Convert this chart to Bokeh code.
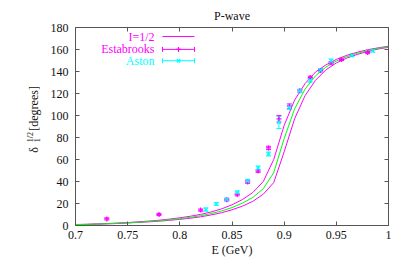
import math
from bokeh.plotting import figure
from bokeh.layouts import row
from bokeh.models import (ColumnDataSource, Whisker, TeeHead, Label, FixedTicker,
                          LinearAxis)
from bokeh.embed import file_html
from bokeh.resources import INLINE

# ---------------- data ----------------
E_grid = [0.70, 0.71, 0.72, 0.73, 0.74, 0.75, 0.76, 0.77, 0.78, 0.79, 0.80,
          0.81, 0.82, 0.83, 0.84, 0.85, 0.86, 0.87, 0.88, 0.89, 0.90,
          0.91, 0.92, 0.93, 0.94, 0.95, 0.96, 0.97, 0.98, 0.99, 1.00]
fit_central = [0.8, 1.0, 1.3, 1.6, 2.0, 2.5, 3.0, 3.6, 4.3, 5.2, 6.2,
               7.4, 8.9, 10.8, 13.2, 16.3, 20.3, 25.5, 33.5, 48.0, 79.0,
               106.0, 124.0, 136.0, 144.0, 149.5, 153.5, 156.5, 159.0, 161.0, 162.5]
fit_upper = [0.9, 1.1, 1.4, 1.8, 2.2, 2.7, 3.3, 4.0, 4.8, 5.8, 7.0,
             8.4, 10.1, 12.3, 15.1, 18.8, 23.6, 30.0, 40.0, 60.0, 91.0,
             114.0, 129.0, 139.5, 146.0, 151.0, 154.7, 157.5, 159.8, 161.5, 163.0]
fit_lower = [0.7, 0.9, 1.2, 1.5, 1.8, 2.3, 2.8, 3.3, 3.9, 4.7, 5.6,
             6.6, 7.9, 9.6, 11.6, 14.3, 17.6, 22.0, 28.5, 39.0, 67.0,
             97.0, 118.0, 132.0, 141.5, 147.8, 152.2, 155.5, 158.2, 160.4, 162.0]

estab_E = [0.73, 0.78, 0.82, 0.845, 0.855, 0.865, 0.875, 0.885, 0.895, 0.905,
           0.915, 0.925, 0.935, 0.945, 0.955, 0.98]
estab_d = [6.0, 10.0, 14.0, 23.3, 28.2, 39.5, 49.5, 70.5, 97.0, 108.5,
           122.5, 134.5, 141.0, 147.8, 151.0, 157.2]
estab_err = [1.0, 1.0, 1.0, 1.0, 1.2, 1.2, 1.2, 1.5, 3.0, 2.0,
             1.2, 1.2, 1.2, 1.2, 1.0, 1.0]

aston_E = [0.825, 0.835, 0.845, 0.855, 0.865, 0.875, 0.885, 0.895, 0.905, 0.915,
           0.925, 0.935, 0.945, 0.965, 0.985]
aston_d = [14.5, 19.5, 23.8, 30.0, 40.5, 52.3, 65.0, 93.7, 107.4, 122.3,
           131.8, 141.2, 149.6, 154.7, 158.8]
aston_err = [1.5, 1.2, 1.2, 1.5, 1.5, 1.8, 1.8, 5.5, 2.0, 1.5,
             1.5, 1.5, 1.8, 1.2, 1.2]

x_ticks = [0.7, 0.75, 0.8, 0.85, 0.9, 0.95, 1.0]
x_tick_labels = ["0.7", "0.75", "0.8", "0.85", "0.9", "0.95", "1"]
y_ticks = [0, 20, 40, 60, 80, 100, 120, 140, 160, 180]

legend_labels = ["I=1/2", "Estabrooks", "Aston"]

# ---------------- style / layout ----------------
FONT = "Liberation Serif"
MAG = "#ff00ff"
CYA = "#00ffff"
GRN = "#00ff00"
AX = "#555555"
TXT = "#111111"
FS = "12px"

W, H = 391, 259
LW = 45                      # width of the strip holding the y-axis title
BL, BR, BT, BB = 75 - LW, 3, 27, 33

p = figure(width=W - LW, height=H, x_range=(0.7, 1.0), y_range=(0, 180),
           output_backend="svg", toolbar_location=None,
           min_border_left=BL, min_border_right=BR, min_border_top=BT,
           min_border_bottom=BB)
p.background_fill_color = "white"
p.border_fill_color = "white"
p.outline_line_color = AX
p.outline_line_width = 1
p.xgrid.visible = False
p.ygrid.visible = False

p.title.text = "P-wave"
p.title.align = "center"
p.title.text_font = FONT
p.title.text_font_size = FS
p.title.text_font_style = "normal"
p.title.text_color = TXT
p.title.standoff = 9

for ax in p.xaxis:
    ax.ticker = FixedTicker(ticks=x_ticks)
    ax.major_label_overrides = {t: l for t, l in zip(x_ticks, x_tick_labels)}
    ax.axis_label = "E (GeV)"
    ax.axis_label_text_font = FONT
    ax.axis_label_text_font_size = FS
    ax.axis_label_text_font_style = "normal"
    ax.axis_label_text_color = TXT
    ax.axis_label_standoff = 1
for ax in p.yaxis:
    ax.ticker = FixedTicker(ticks=y_ticks)

for ax in list(p.xaxis) + list(p.yaxis):
    ax.axis_line_color = None
    ax.major_tick_in = 4
    ax.major_tick_out = 0
    ax.major_tick_line_color = AX
    ax.minor_tick_line_color = None
    ax.major_label_text_font = FONT
    ax.major_label_text_font_size = FS
    ax.major_label_text_color = TXT
for ax in p.xaxis:
    ax.major_label_standoff = 5
for ax in p.yaxis:
    ax.major_label_standoff = 7

# mirrored tick axes (top, right) without labels
top = LinearAxis(ticker=FixedTicker(ticks=x_ticks), axis_line_color=None,
                 major_tick_in=4, major_tick_out=0, major_tick_line_color=AX,
                 minor_tick_line_color=None,
                 major_label_overrides={t: "" for t in x_ticks},
                 major_label_standoff=0)
right = LinearAxis(ticker=FixedTicker(ticks=y_ticks), axis_line_color=None,
                   major_tick_in=4, major_tick_out=0, major_tick_line_color=AX,
                   minor_tick_line_color=None,
                   major_label_overrides={t: "" for t in y_ticks},
                   major_label_standoff=0)
p.add_layout(top, "above")
p.add_layout(right, "right")

# ---------------- curves ----------------
p.line(E_grid, fit_upper, line_color=MAG, line_width=1)
p.line(E_grid, fit_lower, line_color=MAG, line_width=1)
p.line(E_grid, fit_central, line_color=GRN, line_width=1)

# ---------------- data points ----------------
def errpoints(E, d, err, color, marker):
    src = ColumnDataSource(dict(x=E, y=d,
                                lo=[a - b for a, b in zip(d, err)],
                                hi=[a + b for a, b in zip(d, err)]))
    w = Whisker(base="x", lower="lo", upper="hi", source=src, dimension="height",
                line_color=color, line_width=1,
                lower_head=TeeHead(size=5, line_color=color, line_width=1),
                upper_head=TeeHead(size=5, line_color=color, line_width=1))
    p.add_layout(w)
    p.scatter("x", "y", source=src, marker=marker, size=5, line_color=color,
              line_width=1.2)

errpoints(estab_E, estab_d, estab_err, MAG, "cross")
errpoints(aston_E, aston_d, aston_err, CYA, "x")

# ---------------- legend (gnuplot style, text left of sample) ----------------
leg_text_x = 0.7757
leg_x0, leg_x1 = 0.7834, 0.8141
leg_rows = [171.8, 160.1, 149.8]
leg_colors = [MAG, MAG, CYA]
for lab, yy, c in zip(legend_labels, leg_rows, leg_colors):
    p.add_layout(Label(x=leg_text_x, y=yy, text=lab, text_font=FONT,
                       text_font_size=FS, text_color=c, text_align="right",
                       text_baseline="middle"))
p.segment(x0=[leg_x0], y0=[leg_rows[0]], x1=[leg_x1], y1=[leg_rows[0]],
          line_color=MAG, line_width=1)
for yy, c, mk in zip(leg_rows[1:], leg_colors[1:], ["cross", "x"]):
    src = ColumnDataSource(dict(y=[yy], lo=[leg_x0], hi=[leg_x1],
                                xm=[(leg_x0 + leg_x1) / 2]))
    p.add_layout(Whisker(base="y", lower="lo", upper="hi", source=src,
                         dimension="width", line_color=c, line_width=1,
                         lower_head=TeeHead(size=5, line_color=c, line_width=1),
                         upper_head=TeeHead(size=5, line_color=c, line_width=1)))
    p.scatter("xm", "y", source=src, marker=mk, size=5, line_color=c,
              line_width=1.2)

# ---------------- strip with rotated y label: delta_1^{1/2} [degrees] -------
q = figure(width=LW, height=H, x_range=(0, LW), y_range=(H, 0),
           output_backend="svg", toolbar_location=None,
           x_axis_type=None, y_axis_type=None,
           min_border_left=0, min_border_right=0, min_border_top=0,
           min_border_bottom=0)
q.outline_line_color = None
q.background_fill_color = "white"
q.border_fill_color = "white"
q.xgrid.visible = False
q.ygrid.visible = False

ylab_X = 33
parts = [("δ", 0, 164, FS), ("1", 3, 150, "8px"), ("1/2", -3, 150, "8px"),
         ("[degrees]", 0, 135, FS)]
for txt, dx, T, fs in parts:
    q.add_layout(Label(x=ylab_X + dx, y=T, text=txt, text_font=FONT,
                       text_font_size=fs, text_color=TXT, text_align="left",
                       text_baseline="middle", angle=math.pi / 2))

layout = row(q, p)
open("out.html", "w").write(file_html(layout, INLINE))
